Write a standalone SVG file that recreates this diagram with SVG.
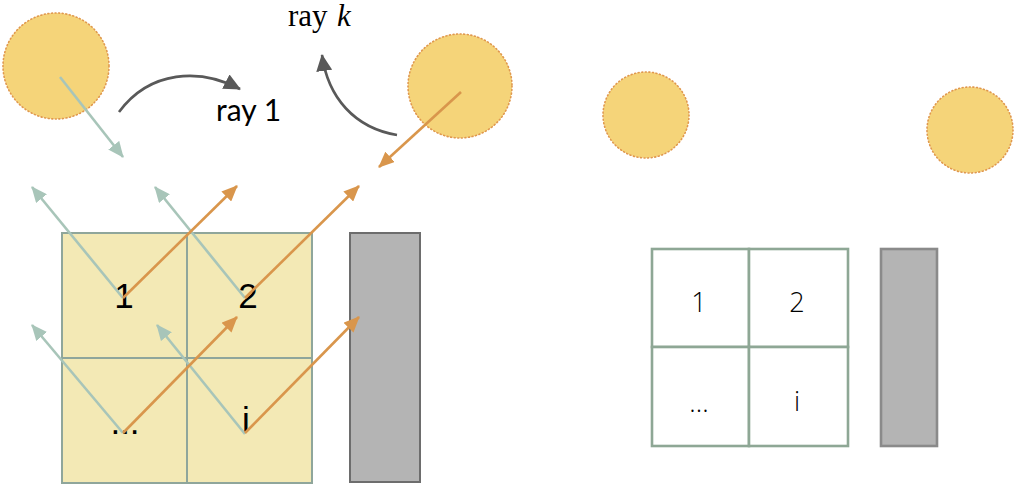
<svg xmlns="http://www.w3.org/2000/svg" width="1015" height="485" viewBox="0 0 1015 485">
<style>
.sun{fill:#f5d479;stroke:#e0984e;stroke-width:1.6;stroke-dasharray:1 2.6;stroke-linecap:round}
.cellL{fill:#f3e9b5;stroke:#8fa69b;stroke-width:2}
.cellR{fill:#ffffff;stroke:#8ea795;stroke-width:2.6}
.wall{fill:#b4b4b4;stroke:#6d6d6d;stroke-width:2}
.wallR{fill:#b4b4b4;stroke:#8a8a8a;stroke-width:2.6}
.g{stroke:#a8c5b9;stroke-width:2.6;fill:none;marker-end:url(#mg)}
.o{stroke:#d9964c;stroke-width:2.6;fill:none;marker-end:url(#mo)}
.d{stroke:#595959;stroke-width:2.6;fill:none;marker-end:url(#md)}
.tL{font-family:"Liberation Sans",Arial,sans-serif;font-size:35px;fill:#000;text-anchor:middle}
.tR{font-family:"Open Sans","Noto Sans",sans-serif;font-weight:300;font-size:27px;fill:#000;text-anchor:middle}
</style>
<defs>
<marker id="mg" markerUnits="userSpaceOnUse" markerWidth="16" markerHeight="14" refX="15" refY="7" orient="auto"><path d="M0,0 L16,7 L0,14 z" fill="#a8c5b9"/></marker>
<marker id="mo" markerUnits="userSpaceOnUse" markerWidth="16" markerHeight="14" refX="15" refY="7" orient="auto"><path d="M0,0 L16,7 L0,14 z" fill="#d9964c"/></marker>
<marker id="md" markerUnits="userSpaceOnUse" markerWidth="17" markerHeight="16" refX="16" refY="8" orient="auto"><path d="M0,0 L17,8 L0,16 z" fill="#595959"/></marker>
</defs>

<g id="sun1"><circle class="sun" cx="56" cy="66" r="53"/></g>
<g id="sun2"><circle class="sun" cx="460" cy="86" r="52"/></g>
<g id="sun3"><circle class="sun" cx="646" cy="115" r="43"/></g>
<g id="sun4"><circle class="sun" cx="970" cy="130" r="43"/></g>

<g id="gridLeft">
<rect class="cellL" x="62" y="233" width="125" height="125"/>
<rect class="cellL" x="187" y="233" width="125" height="125"/>
<rect class="cellL" x="62" y="358" width="125" height="125"/>
<rect class="cellL" x="187" y="358" width="125" height="125"/>
<text class="tL" x="124" y="308">1</text>
<text class="tL" x="248" y="308">2</text>
<text class="tL" x="125" y="434">...</text>
<text class="tL" x="246" y="432">i</text>
</g>
<g id="wallLeft"><rect class="wall" x="350" y="233" width="70" height="249"/></g>

<g id="gridRight">
<rect class="cellR" x="652" y="249" width="97" height="98"/>
<rect class="cellR" x="749" y="249" width="99" height="98"/>
<rect class="cellR" x="652" y="347" width="97" height="99"/>
<rect class="cellR" x="749" y="347" width="99" height="99"/>
<text class="tR" x="699" y="312">1</text>
<text class="tR" x="797" y="312">2</text>
<text class="tR" x="699" y="412">...</text>
<text class="tR" x="797" y="411">i</text>
</g>
<g id="wallRight"><rect class="wallR" x="881" y="249" width="56" height="197"/></g>

<g id="connectors">
<line class="g" x1="60" y1="77" x2="123" y2="157"/>
<line class="g" x1="123" y1="298" x2="32" y2="187"/>
<line class="g" x1="245" y1="298" x2="155" y2="187"/>
<line class="g" x1="123" y1="433" x2="32" y2="325"/>
<line class="g" x1="245" y1="434" x2="157" y2="325"/>
<line class="o" x1="123" y1="298" x2="237" y2="186"/>
<line class="o" x1="245" y1="298" x2="359" y2="186"/>
<line class="o" x1="123" y1="433" x2="237" y2="317"/>
<line class="o" x1="245" y1="433" x2="359" y2="317"/>
<line class="o" x1="461" y1="92" x2="379" y2="167"/>
<path class="d" d="M119,112 C150,70 200,68 240,89"/>
<path class="d" d="M397,135 C355,128 328,98 322,55"/>
</g>

<g id="labels">
<text x="216" y="121" font-family="Lato,'Noto Sans',sans-serif" font-size="30" fill="#000">ray 1</text>
<text x="288" y="26" font-family="'Liberation Serif','Times New Roman',serif" font-size="31" fill="#000">ray</text>
<text x="337" y="26" font-family="'Liberation Serif','Times New Roman',serif" font-size="31" font-style="italic" fill="#000">k</text>
</g>
</svg>
